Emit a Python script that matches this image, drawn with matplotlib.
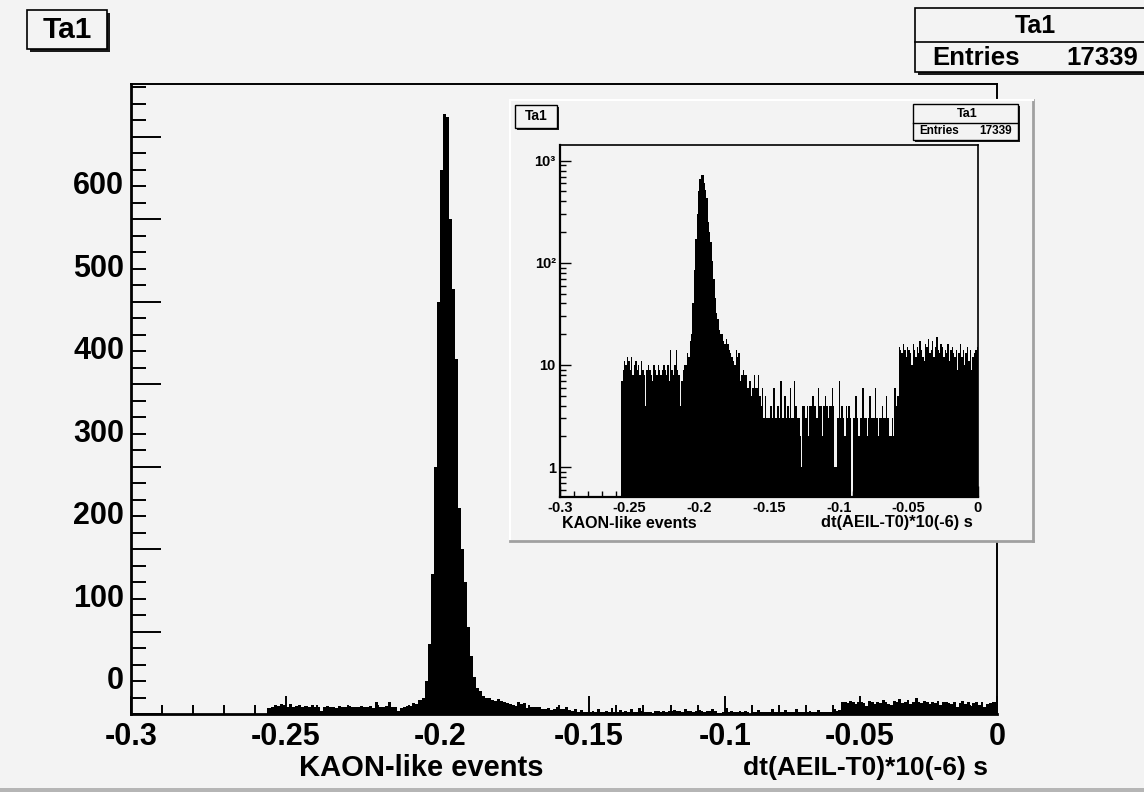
import numpy as np
import matplotlib.pyplot as plt
from matplotlib.patches import Rectangle
from matplotlib.ticker import MultipleLocator, LogLocator, NullFormatter, NullLocator

plt.rcParams['font.family'] = ['Liberation Sans', 'DejaVu Sans']
plt.rcParams['font.weight'] = 'bold'

# histogram Ta1: 300 bins of 0.001 between -0.3 and 0
x_lo, x_hi, n_bins = -0.3, 0.0, 300
n_empty = 44          # nothing below -0.256
left_bg = [7, 9, 11, 10, 12, 11, 9, 12, 8, 10,
           11, 9, 10, 8, 11, 9, 8, 4, 9, 10,
           9, 8, 7, 10, 9, 8, 10, 9, 8, 9,
           10, 9, 8, 10, 7, 14, 9, 8, 10, 14,
           9, 8, 4, 7, 9, 10]
peak = [10, 13, 12, 17, 20, 40, 85, 170, 300, 500,
        660, 728, 724, 600, 515, 430, 250, 200, 160, 105,
        70, 45, 32, 28, 22, 20]
tail = [20, 17, 16, 18, 16, 14, 13, 12, 11, 10,
        14, 12, 13, 7, 8, 9, 8, 8, 6, 6,
        7, 5, 6, 8, 6, 6, 8, 5, 4, 6,
        3, 5, 3, 3]
mid = [3, 4, 3, 6, 3, 3, 4, 3, 7, 3,
       3, 5, 3, 4, 3, 6, 3, 3, 7, 4,
       3, 3, 2, 1, 4, 4, 3, 4, 2, 4,
       4, 5, 4, 4, 3, 6, 4, 4, 2, 4,
       5, 4, 3, 4, 4, 6, 4, 1, 1, 3,
       7, 3, 4, 3, 2, 4, 3, 4, 3, 0,
       3, 3, 5, 3, 2, 3, 3, 6, 3, 3,
       2, 3, 5, 3, 3, 3, 6, 3, 2, 3,
       3, 4, 3, 3, 5, 3, 2, 2, 3, 2,
       6, 4, 5]
plateau = [15, 14, 13, 16, 14, 12, 15, 14, 13, 10,
           16, 14, 12, 15, 13, 17, 14, 12, 11, 16,
           15, 18, 13, 14, 17, 12, 15, 19, 14, 13,
           16, 15, 12, 14, 13, 16, 11, 14, 15, 13,
           12, 14, 9, 13, 16, 12, 14, 10, 13, 15,
           11, 14, 9, 12, 13, 14, 15]
entries = 17339

xtick_vals = [-0.3, -0.25, -0.2, -0.15, -0.1, -0.05, 0.0]
xtick_text = ["-0.3", "-0.25", "-0.2", "-0.15", "-0.1", "-0.05", "0"]
ylab_vals = [0, 100, 200, 300, 400, 500, 600]
logtick_vals = [1, 10, 100, 1000]
logtick_text = ["1", "10", "10\u00b2", "10\u00b3"]

counts = np.concatenate([np.zeros(n_empty), left_bg, peak, tail, mid, plateau])
edges = np.linspace(x_lo, x_hi, n_bins + 1)

BG = '#f3f3f3'
W, H = 1144, 792

# main frame x axis is not evenly stretched: pixel column of each labelled value
xtick_px = [131, 286, 440, 589, 725, 860, 997]
label_shift = 44   # y labels sit below their ticks


def frac(x0, y0, x1, y1):
    return [x0 / W, 1 - y1 / H, (x1 - x0) / W, (y1 - y0) / H]


def px(x, y):
    return x / W, 1 - y / H


def root_box(x0, y0, x1, y1, sh=3, lw=1.2):
    l, b, w, h = frac(x0, y0, x1, y1)
    fig.add_artist(Rectangle((l + sh / W, b - sh / H), w, h, transform=fig.transFigure,
                             facecolor='#1a1a1a', edgecolor='none', zorder=5))
    fig.add_artist(Rectangle((l, b), w, h, transform=fig.transFigure,
                             facecolor=BG, edgecolor='black', lw=lw, zorder=5))


fig = plt.figure(figsize=(W / 100, H / 100), dpi=100, facecolor=BG)

# canvas border
fig.add_artist(Rectangle((0, 0), 1, 4 / H, transform=fig.transFigure,
                         facecolor='#b5b5b5', edgecolor='none', zorder=0))

# ---- main linear histogram
ax = fig.add_axes(frac(131, 84, 997, 714))
ax.set_facecolor(BG)
ax.set_xscale('function', functions=(lambda v: np.interp(v, xtick_vals, xtick_px),
                                     lambda p: np.interp(p, xtick_px, xtick_vals)))
ax.stairs(counts, edges, fill=True, color='black', lw=0)
ax.set_xlim(x_lo, x_hi)
ax.set_ylim(0, 764)
ax.set_xticks(xtick_vals, xtick_text)
ax.xaxis.set_minor_locator(MultipleLocator(0.01))
ax.yaxis.set_major_locator(MultipleLocator(100))
ax.yaxis.set_minor_locator(MultipleLocator(20))
ax.tick_params(axis='x', which='major', direction='in', length=13, width=1.4,
               labelsize=22, pad=6)
ax.tick_params(axis='x', which='minor', direction='in', length=6.5, width=1.4)
ax.tick_params(axis='y', which='major', direction='in', length=21.6, width=1.4,
               labelleft=False)
ax.tick_params(axis='y', which='minor', direction='in', length=10.8, width=1.4)
for s in ['left', 'bottom']:
    ax.spines[s].set_linewidth(2)
for s in ['top', 'right']:
    ax.spines[s].set_linewidth(1.4)

sec = ax.secondary_yaxis('left', functions=(lambda y: y - label_shift,
                                            lambda y: y + label_shift))
sec.set_yticks(ylab_vals)
sec.yaxis.set_minor_locator(NullLocator())
sec.tick_params(length=0, labelsize=22, pad=5)
sec.spines['left'].set_visible(False)

fig.text(*px(421, 768), "KAON-like events", ha='center', va='center', fontsize=21)
fig.text(*px(988, 768), "dt(AEIL-T0)*10(-6) s", ha='right', va='center', fontsize=19)

root_box(27, 10, 107, 49)
fig.text(*px(67, 30), "Ta1", ha='center', va='center', fontsize=21.5, zorder=6)

root_box(915, 8, 1150, 72)
fig.add_artist(plt.Line2D([915 / W, 1], [1 - 42 / H] * 2, transform=fig.transFigure,
                          color='black', lw=1.2, zorder=6))
fig.text(*px(1035, 26), "Ta1", ha='center', va='center', fontsize=18, zorder=6)
fig.text(*px(932, 58), "Entries", ha='left', va='center', fontsize=18.5, zorder=6)
fig.text(*px(1138, 58), str(entries), ha='right', va='center', fontsize=18.5, zorder=6)

# ---- inset pad with the same histogram on a log scale
pad = fig.add_axes(frac(510, 100, 1033, 541), zorder=1)
pad.set_facecolor(BG)
pad.set_xticks([])
pad.set_yticks([])
for s in ['left', 'top']:
    pad.spines[s].set_color('white')
    pad.spines[s].set_linewidth(1.5)
for s in ['right', 'bottom']:
    pad.spines[s].set_color('#a0a0a0')
    pad.spines[s].set_linewidth(2)

ins = fig.add_axes(frac(560, 145, 978, 497), zorder=2)
ins.set_facecolor(BG)
ins.stairs(counts, edges, fill=True, color='black', lw=0)
ins.set_yscale('log')
ins.set_xlim(x_lo, x_hi)
ins.set_ylim(0.51, 1425)
ins.set_xticks(xtick_vals, xtick_text)
ins.xaxis.set_minor_locator(MultipleLocator(0.01))
ins.set_yticks(logtick_vals, logtick_text)
ins.yaxis.set_minor_locator(LogLocator(subs=np.arange(2, 10)))
ins.yaxis.set_minor_formatter(NullFormatter())
ins.tick_params(which='major', direction='in', length=8, width=1, labelsize=10.5, pad=3)
ins.tick_params(which='minor', direction='in', length=4, width=1)
for s in ['left', 'bottom']:
    ins.spines[s].set_linewidth(1.6)
for s in ['top', 'right']:
    ins.spines[s].set_linewidth(1.2)

fig.text(*px(562, 523), "KAON-like events", ha='left', va='center', fontsize=11.5, zorder=3)
fig.text(*px(973, 523), "dt(AEIL-T0)*10(-6) s", ha='right', va='center', fontsize=11.8, zorder=3)

root_box(515, 105, 557, 128, sh=2, lw=1)
fig.text(*px(536, 116), "Ta1", ha='center', va='center', fontsize=10, zorder=6)

root_box(913, 104, 1018, 140, sh=2, lw=1)
fig.add_artist(plt.Line2D([913 / W, 1018 / W], [1 - 123 / H] * 2, transform=fig.transFigure,
                          color='black', lw=1, zorder=6))
fig.text(*px(967, 114), "Ta1", ha='center', va='center', fontsize=9, zorder=6)
fig.text(*px(919, 131), "Entries", ha='left', va='center', fontsize=8.5, zorder=6)
fig.text(*px(1012, 131), str(entries), ha='right', va='center', fontsize=8.5, zorder=6)

fig.savefig('out.png', dpi=100, facecolor=fig.get_facecolor())
